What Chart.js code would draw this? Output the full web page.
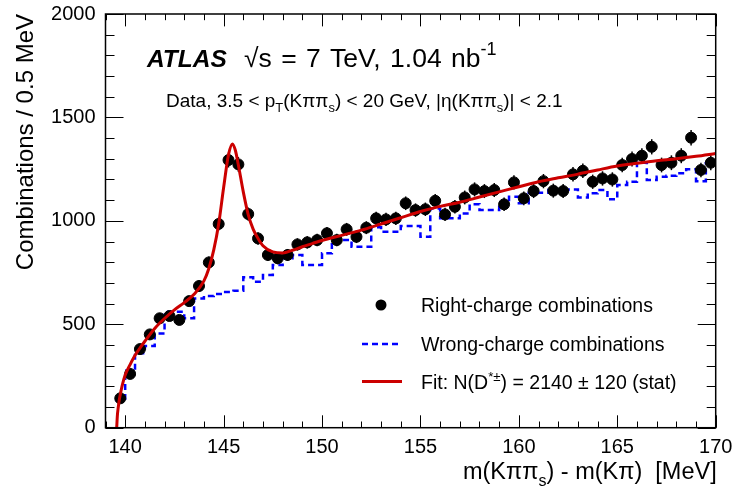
<!DOCTYPE html>
<html><head><meta charset="utf-8">
<script src="https://cdn.jsdelivr.net/npm/chart.js@4.4.0/dist/chart.umd.min.js"></script>
<style>html,body{margin:0;padding:0;background:#fff;}#wrap{width:734px;height:490px;}</style>
</head><body><div id="wrap"><canvas id="c" width="734" height="490"></canvas></div>
<script>
// ---- data ----
const binCenters = [139.75,140.25,140.75,141.25,141.75,142.25,142.75,143.25,143.75,144.25,144.75,145.25,145.75,146.25,146.75,147.25,147.75,148.25,148.75,149.25,149.75,150.25,150.75,151.25,151.75,152.25,152.75,153.25,153.75,154.25,154.75,155.25,155.75,156.25,156.75,157.25,157.75,158.25,158.75,159.25,159.75,160.25,160.75,161.25,161.75,162.25,162.75,163.25,163.75,164.25,164.75,165.25,165.75,166.25,166.75,167.25,167.75,168.25,168.75,169.25,169.75];
const rightCharge = [142,260,380,451,529,540,521,612,685,799,985,1294,1273,1033,915,835,819,835,886,896,907,940,907,959,923,967,1012,1007,1012,1085,1052,1056,1097,1031,1068,1113,1152,1144,1149,1080,1186,1109,1144,1192,1146,1144,1225,1242,1189,1205,1200,1270,1299,1315,1358,1270,1281,1315,1402,1246,1281];
const wrongCharge = [133,278,360,395,456,561,561,529,625,637,646,656,662,727,706,738,786,819,835,786,786,843,907,907,875,875,969,947,947,975,975,923,1060,1012,1012,1036,1080,1052,1052,1085,1117,1085,1136,1136,1149,1149,1152,1113,1133,1149,1104,1173,1189,1281,1197,1213,1218,1230,1249,1192,1278];
const fitX = [139.57,139.6,139.65,139.7,139.75,139.85,140.0,140.25,140.5,140.75,141.0,141.5,142.0,142.5,143.0,143.5,144.0,144.25,144.5,144.75,145.0,145.25,145.45,145.6,145.75,146.0,146.25,146.5,146.75,147.0,147.5,148.0,148.5,149.0,149.5,150,151,152,153,154,155,156,157,158,159,160,161,162,163,164,165,166,167,168,169,170];
const fitY = [0,55,100,135,160,205,255,305,350,385,418,480,528,570,605,645,710,770,860,985,1160,1320,1372,1340,1270,1140,1030,960,915,880,850,845,858,875,890,905,930,955,985,1015,1045,1070,1090,1115,1140,1165,1189,1208,1226,1246,1265,1278,1290,1300,1312,1326];
const xTickLabels = [140,145,150,155,160,165,170];
const yTickLabels = [0,500,1000,1500,2000];
const legendLabels = ['Right-charge combinations','Wrong-charge combinations'];

const FONT = '"Liberation Sans", Arial, Helvetica, sans-serif';
const binHalf = (binCenters[1]-binCenters[0])/2;

const wrongPts = binCenters.map((x,i)=>({x, y: wrongCharge[i]}));
wrongPts.unshift({x: binCenters[0]-binHalf, y: wrongCharge[0]});
wrongPts.push({x: binCenters[binCenters.length-1]+binHalf, y: wrongCharge[wrongCharge.length-1]});

function rich(ctx, x, y, parts, base) {
  let cx = x;
  for (const p of parts) {
    let size = base, dy = 0, w = '';
    const m = p[1] || 'n';
    if (m === 'sub') { size = base*0.68; dy = base*0.3; }
    if (m === 'sup') { size = base*0.68; dy = -base*0.42; }
    if (m === 'bi') { w = 'italic bold '; }
    ctx.font = `${w}${size}px ${FONT}`;
    if (ctx.__draw !== false) ctx.fillText(p[0], cx, y+dy);
    cx += ctx.measureText(p[0]).width;
  }
  return cx - x;
}
function richWidth(ctx, parts, base){ ctx.__draw=false; const w=rich(ctx,0,0,parts,base); ctx.__draw=true; return w; }

const deco = {
  id: 'deco',
  beforeDatasetsDraw(chart) {
    const {ctx, scales:{x, y}} = chart;
    ctx.save();
    ctx.strokeStyle = '#000'; ctx.lineWidth = 1.5;
    rightCharge.forEach((v,i)=>{
      const e = Math.sqrt(v);
      const px = x.getPixelForValue(binCenters[i]);
      ctx.beginPath();
      ctx.moveTo(px, y.getPixelForValue(v-e));
      ctx.lineTo(px, y.getPixelForValue(v+e));
      ctx.stroke();
    });
    ctx.restore();
  },
  afterDraw(chart) {
    const {ctx, chartArea:a, scales:{x, y}} = chart;
    ctx.save();
    ctx.strokeStyle = '#000'; ctx.lineWidth = 1.5;
    ctx.strokeRect(a.left, a.top, a.right-a.left, a.bottom-a.top);
    ctx.lineWidth = 1;
    for (let v = Math.ceil(x.min); v <= x.max; v++) {
      const px = Math.round(x.getPixelForValue(v))+0.5;
      const L = (v % 5 === 0) ? 12.4 : 6.2;
      ctx.beginPath();
      ctx.moveTo(px, a.bottom); ctx.lineTo(px, a.bottom-L);
      ctx.moveTo(px, a.top); ctx.lineTo(px, a.top+L);
      ctx.stroke();
    }
    for (let v = y.min; v <= y.max; v += 100) {
      const py = Math.round(y.getPixelForValue(v))+0.5;
      const L = (v % 500 === 0) ? 18 : 9;
      ctx.beginPath();
      ctx.moveTo(a.left, py); ctx.lineTo(a.left+L, py);
      ctx.moveTo(a.right, py); ctx.lineTo(a.right-L, py);
      ctx.stroke();
    }
    ctx.fillStyle = '#000';
    ctx.textBaseline = 'alphabetic';
    ctx.textAlign = 'left';
    rich(ctx, 147, 66.5, [['ATLAS','bi']], 24.5);
    ctx.wordSpacing = '2px';
    rich(ctx, 244, 66.5, [['\u221As = 7 TeV, 1.04 nb'],['-1','sup']], 26.5);
    ctx.wordSpacing = '0px';
    rich(ctx, 166, 106.5, [['Data, 3.5 < p'],['T','sub'],['(K\u03C0\u03C0'],['s','sub'],[') < 20 GeV, |\u03B7(K\u03C0\u03C0'],['s','sub'],[')| < 2.1']], 19);
    const xt = [['m(K\u03C0\u03C0'],['s','sub'],[') - m(K\u03C0)  [MeV]']];
    const w = richWidth(ctx, xt, 23.5);
    rich(ctx, a.right + 1 - w, 479, xt, 23.5);
    ctx.save();
    ctx.translate(33, a.top);
    ctx.rotate(-Math.PI/2);
    ctx.textAlign = 'right';
    ctx.font = `24px ${FONT}`;
    ctx.fillText('Combinations / 0.5 MeV', 0, 0);
    ctx.restore();
    ctx.textAlign = 'left';
    ctx.beginPath(); ctx.arc(381, 305, 5.5, 0, Math.PI*2); ctx.fill();
    ctx.save();
    ctx.strokeStyle = '#0000ff'; ctx.lineWidth = 2.5; ctx.setLineDash([6,4]);
    ctx.beginPath(); ctx.moveTo(362, 344); ctx.lineTo(402, 344); ctx.stroke();
    ctx.restore();
    ctx.strokeStyle = '#cc0000'; ctx.lineWidth = 3;
    ctx.beginPath(); ctx.moveTo(362, 381.5); ctx.lineTo(402, 381.5); ctx.stroke();
    rich(ctx, 421, 312, [[legendLabels[0]]], 19.5);
    rich(ctx, 421, 350.5, [[legendLabels[1]]], 19.5);
    rich(ctx, 421, 389, [['Fit: N(D'],['*\u00B1','sup'],[') = 2140 \u00B1 120 (stat)']], 19.5);
    ctx.restore();
  }
};

function noPad(s){ s.paddingLeft = 0; s.paddingRight = 0; s.paddingTop = 0; s.paddingBottom = 0; }

new Chart(document.getElementById('c'), {
  type: 'scatter',
  data: {
    datasets: [
      { label: 'Fit', type: 'line', data: fitX.map((x,i)=>({x, y: fitY[i]})),
        borderColor: '#cc0000', borderWidth: 3, pointRadius: 0, fill: false,
        cubicInterpolationMode: 'monotone', order: 0 },
      { label: legendLabels[0], data: binCenters.map((x,i)=>({x, y: rightCharge[i]})),
        backgroundColor: '#000', borderColor: '#000', pointRadius: 5.5, pointHoverRadius: 5.5, showLine: false, order: 1 },
      { label: legendLabels[1], type: 'line', data: wrongPts, stepped: 'middle',
        borderColor: '#0000ff', borderWidth: 2.5, borderDash: [6,4], pointRadius: 0, fill: false, order: 2 }
    ]
  },
  options: {
    responsive: false, animation: false, devicePixelRatio: 1,
    layout: { padding: { top: 14, right: 18.3, left: 0, bottom: 0 } },
    plugins: { legend: { display: false }, tooltip: { enabled: false } },
    scales: {
      x: { type: 'linear', min: 139, max: 170,
        grid: { display: false, drawTicks: false }, border: { display: false },
        afterBuildTicks: s => { s.ticks = xTickLabels.map(v=>({value: v})); },
        ticks: { color: '#000', font: { family: FONT, size: 20 }, padding: 8, maxRotation: 0, autoSkip: false,
          callback: v => String(v) },
        afterFit: s => { s.height = 62.3; noPad(s); } },
      y: { min: 0, max: 2000,
        grid: { display: false, drawTicks: false }, border: { display: false },
        afterBuildTicks: s => { s.ticks = yTickLabels.map(v=>({value: v})); },
        ticks: { color: '#000', font: { family: FONT, size: 20 }, padding: 10, autoSkip: false,
          callback: v => String(v) },
        afterFit: s => { s.width = 105.5; noPad(s); } }
    }
  },
  plugins: [deco]
});
</script></body></html>
